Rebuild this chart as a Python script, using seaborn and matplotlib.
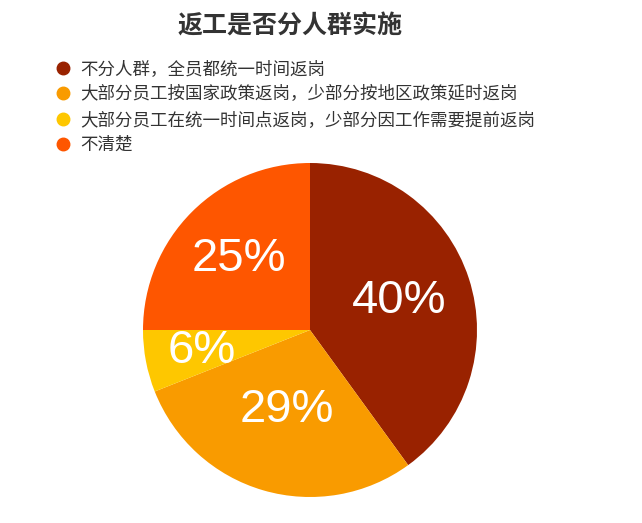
import matplotlib
matplotlib.use("Agg")
import numpy as np
import matplotlib.pyplot as plt
import seaborn as sns
from matplotlib.lines import Line2D

categories = [
    "不分人群，全员都统一时间返岗",
    "大部分员工按国家政策返岗，少部分按地区政策延时返岗",
    "大部分员工在统一时间点返岗，少部分因工作需要提前返岗",
    "不清楚",
]
values = [40, 29, 6, 25]
colors = ["#992200", "#F99B00", "#FEC700", "#FE5600"]
title = "返工是否分人群实施"

sns.set_style("white")
plt.rcParams["font.family"] = ["Noto Sans CJK SC", "DejaVu Sans"]

W, H = 642, 523
fig = plt.figure(figsize=(W / 100, H / 100), dpi=100)
ax = fig.add_axes([0, 0, 1, 1])

cx, cy, r = 310, H - 330, 167
wedges, texts, autotexts = ax.pie(
    values,
    colors=colors,
    startangle=90,
    counterclock=False,
    center=(cx, cy),
    radius=r,
    autopct=lambda p: f"{p:.0f}%",
    pctdistance=0.57,
    frame=True,
    wedgeprops=dict(linewidth=0),
    textprops=dict(color="white", fontsize=34, family=["Liberation Sans", "DejaVu Sans"]),
)
# per-label radial distance of the percentage text
label_dist = [0.56, 0.5, 0.66, 0.6]
for w, t, d in zip(wedges, autotexts, label_dist):
    ang = np.deg2rad((w.theta1 + w.theta2) / 2)
    t.set_position((cx + d * r * np.cos(ang), cy + d * r * np.sin(ang)))

ax.set_xlim(0, W)
ax.set_ylim(0, H)
ax.set_aspect("equal")
ax.set_axis_off()

fig.text(290 / W, 1 - 27 / H, title, ha="center", va="center",
         fontsize=18, fontweight="bold", color="#333333")

handles = [Line2D([0], [0], marker="o", linestyle="none", markersize=9,
                  markerfacecolor=c, markeredgecolor=c) for c in colors]
leg = ax.legend(handles, categories, loc="upper left",
                bbox_to_anchor=(56 / W, 1 - 60 / H), frameon=False,
                fontsize=12.6, handlelength=0.8, handletextpad=0.6,
                labelspacing=0.42, borderaxespad=0, borderpad=0)
for t in leg.get_texts():
    t.set_color("#333333")

fig.savefig("out.png", dpi=100)
